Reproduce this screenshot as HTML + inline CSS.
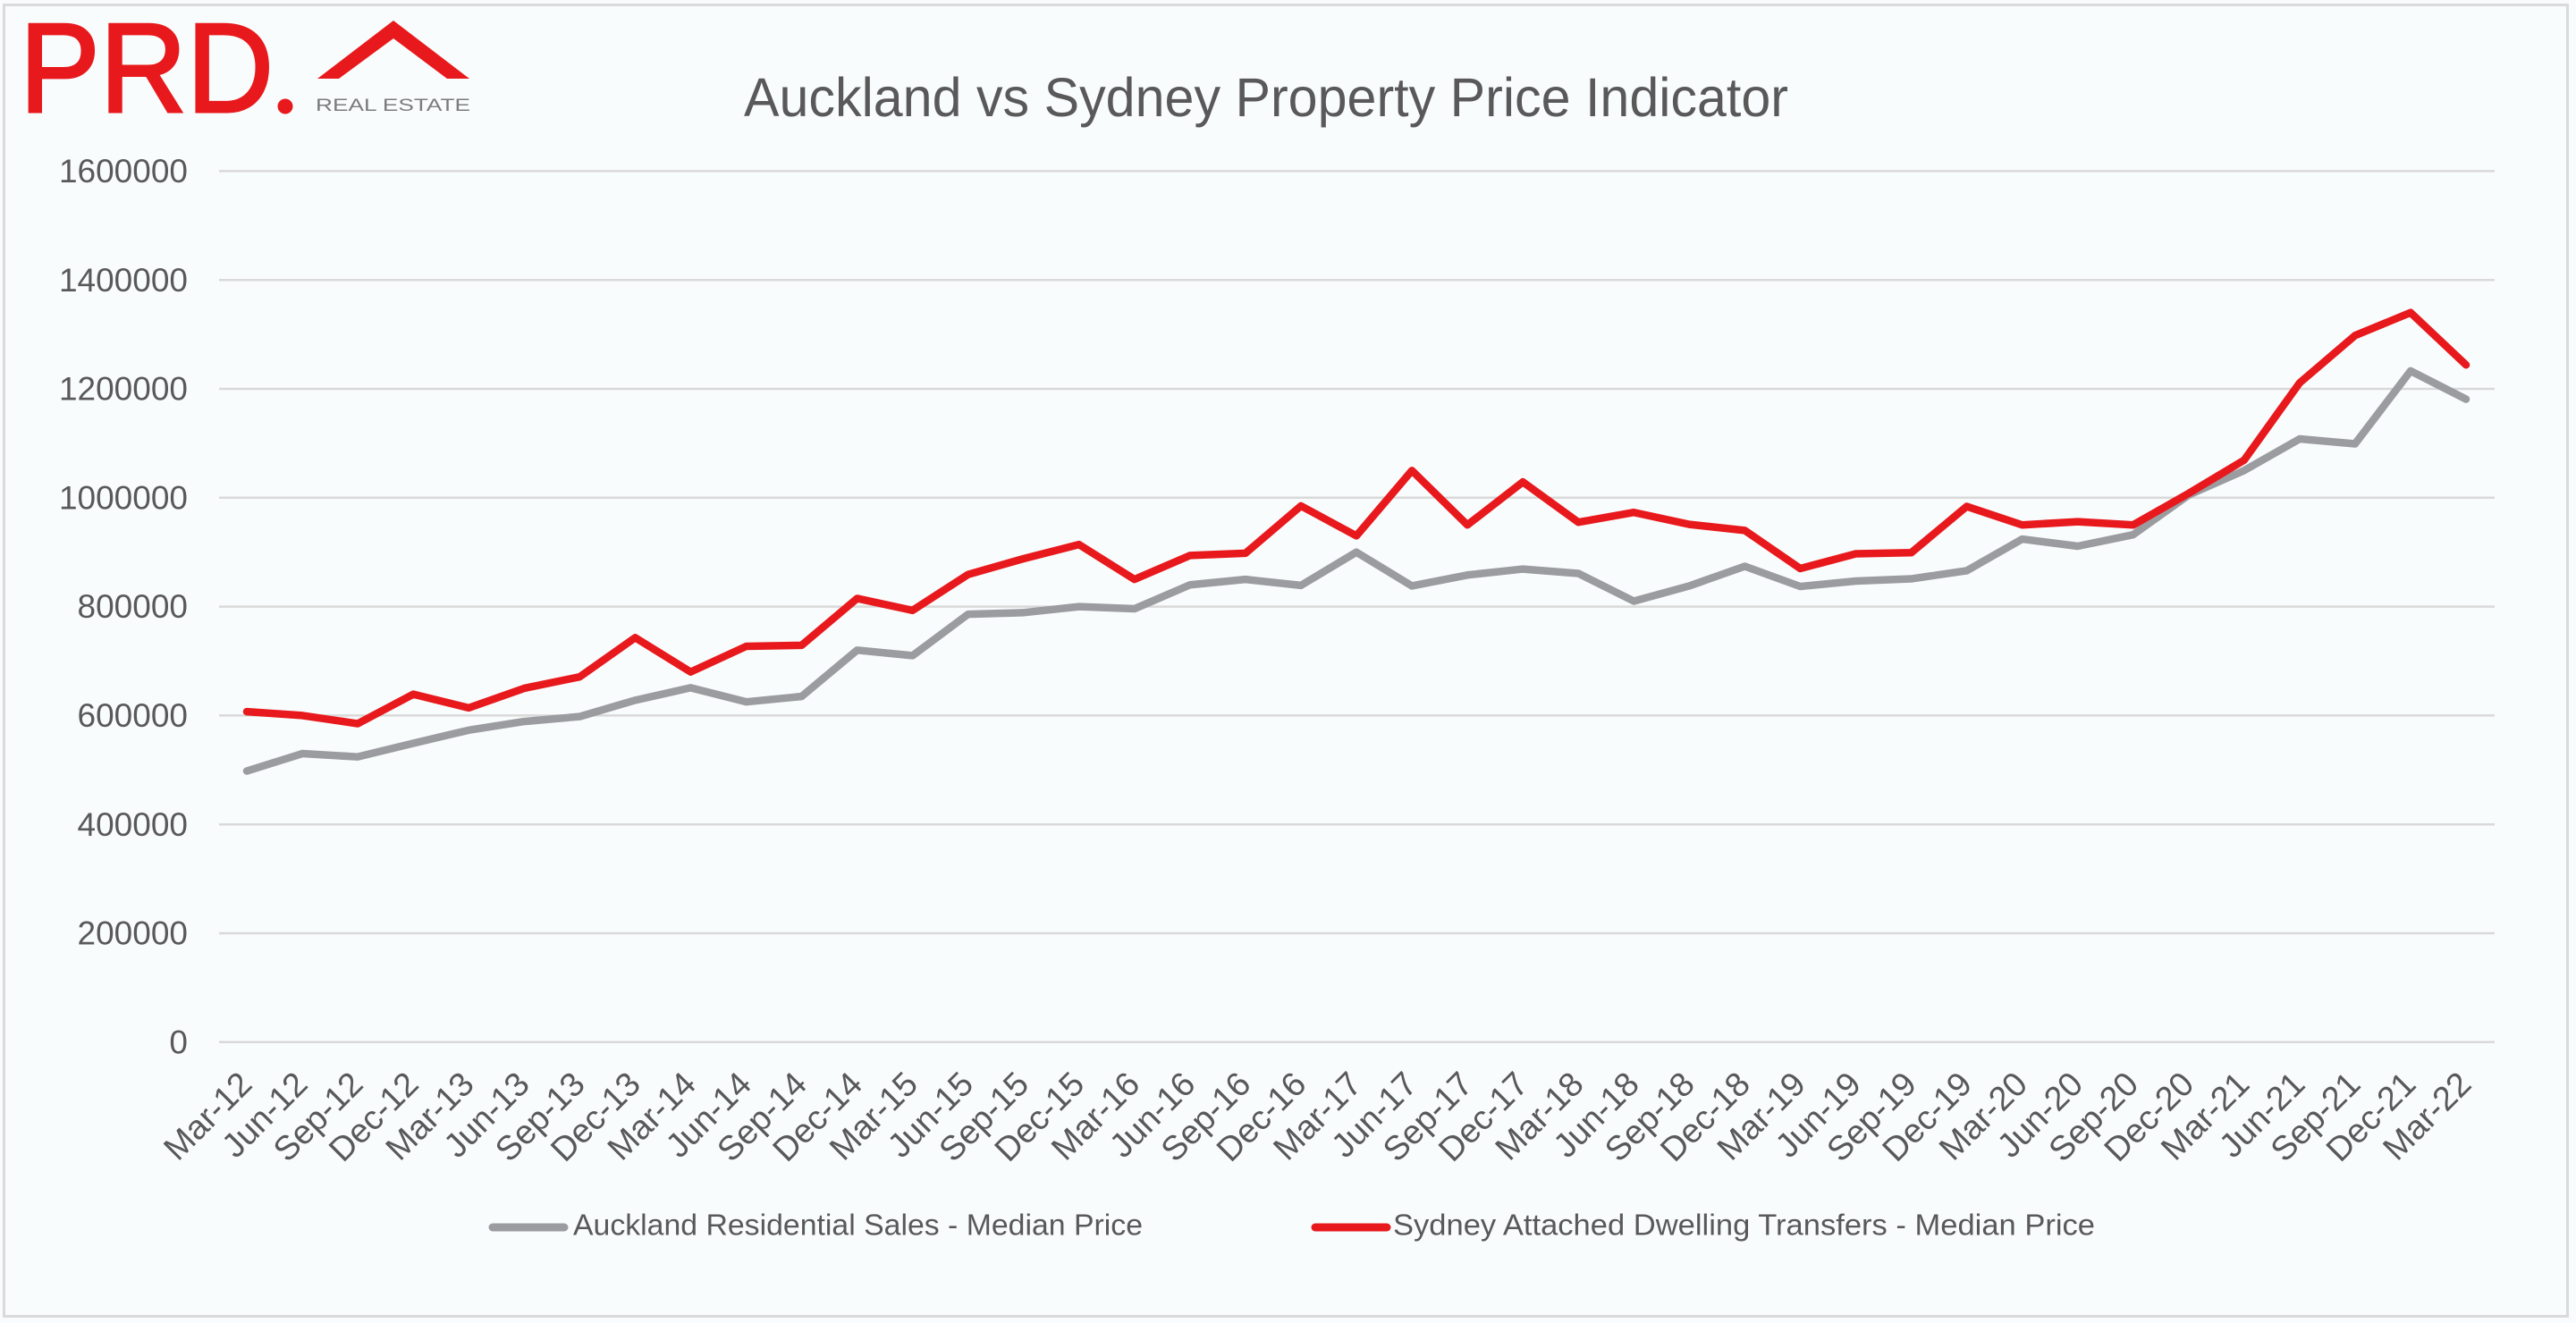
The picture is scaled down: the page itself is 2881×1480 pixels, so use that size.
<!DOCTYPE html>
<html>
<head>
<meta charset="utf-8">
<style>
html,body{margin:0;padding:0;background:#F9FCFD;}
svg{display:block;}
</style>
</head>
<body>
<svg width="2881" height="1480" viewBox="0 0 2881 1480" xmlns="http://www.w3.org/2000/svg">
  <rect x="0" y="0" width="2881" height="1480" fill="#F9FCFD"/>
  <rect x="4.5" y="5.5" width="2867" height="1467" fill="#F9FCFD" stroke="#D9DADB" stroke-width="3"/>

  <!-- Logo -->
  <text x="22" y="125" font-family="Liberation Sans, sans-serif" font-size="142" fill="#E8191C" stroke="#E8191C" stroke-width="3" textLength="284" lengthAdjust="spacingAndGlyphs">PRD</text>
  <circle cx="319" cy="119" r="8.5" fill="#E8191C"/>
  <polygon points="355,88 440,23 525,88 500,88 440,43 379,88" fill="#E8191C"/>
  <text x="353" y="124" font-family="Liberation Sans, sans-serif" font-size="19.5" fill="#7A7B7D" textLength="173" lengthAdjust="spacingAndGlyphs">REAL ESTATE</text>

  <!-- Title -->
  <text x="832" y="130" font-family="Liberation Sans, sans-serif" font-size="61" fill="#595959" textLength="1168" lengthAdjust="spacingAndGlyphs">Auckland vs Sydney Property Price Indicator</text>

  <!-- Gridlines -->
  <g stroke="#D9D9D9" stroke-width="2.5">
    <line x1="245" y1="191.4" x2="2790" y2="191.4"/>
    <line x1="245" y1="313.2" x2="2790" y2="313.2"/>
    <line x1="245" y1="435" x2="2790" y2="435"/>
    <line x1="245" y1="556.8" x2="2790" y2="556.8"/>
    <line x1="245" y1="678.6" x2="2790" y2="678.6"/>
    <line x1="245" y1="800.4" x2="2790" y2="800.4"/>
    <line x1="245" y1="922.2" x2="2790" y2="922.2"/>
    <line x1="245" y1="1044" x2="2790" y2="1044"/>
    <line x1="245" y1="1165.8" x2="2790" y2="1165.8"/>
  </g>

  <!-- Y labels -->
  <g font-family="Liberation Sans, sans-serif" font-size="37" fill="#595959" text-anchor="end">
    <text x="210" y="204">1600000</text>
    <text x="210" y="325.8">1400000</text>
    <text x="210" y="447.6">1200000</text>
    <text x="210" y="569.4">1000000</text>
    <text x="210" y="691.2">800000</text>
    <text x="210" y="813">600000</text>
    <text x="210" y="934.8">400000</text>
    <text x="210" y="1056.6">200000</text>
    <text x="210" y="1178.4">0</text>
  </g>

  <!-- Series -->
  <g transform="matrix(1 0 0 -0.609 0 1165.8)" fill="none" stroke-linejoin="round" stroke-linecap="round">
    <polyline vector-effect="non-scaling-stroke" stroke="#9B9CA0" stroke-width="8.5"
      points="276,498 338.1,530 400.1,524 462.2,549 524.2,573 586.3,589 648.3,598 710.4,628 772.4,651 834.5,625 896.5,635 958.6,720 1020.6,710 1082.7,786 1144.7,789 1206.8,800 1268.8,796 1330.9,840 1392.9,850 1455,839 1517,900 1579.1,838 1641.1,858 1703.2,869 1765.2,861 1827.3,810 1889.3,838 1951.4,874 2013.4,837 2075.5,847 2137.5,851 2199.6,866 2261.6,924 2323.7,911 2385.7,932 2447.8,1005 2509.8,1050 2571.9,1108 2633.9,1099 2696,1233 2758,1181"/>
    <polyline vector-effect="non-scaling-stroke" stroke="#E8191C" stroke-width="8.5"
      points="276,607 338.1,600 400.1,585 462.2,639 524.2,614 586.3,650 648.3,671 710.4,743 772.4,680 834.5,727 896.5,729 958.6,815 1020.6,793 1082.7,859 1144.7,888 1206.8,914 1268.8,850 1330.9,894 1392.9,898 1455,985 1517,930 1579.1,1050 1641.1,950 1703.2,1029 1765.2,955 1827.3,973 1889.3,951 1951.4,940 2013.4,870 2075.5,897 2137.5,899 2199.6,984 2261.6,950 2323.7,956 2385.7,950 2447.8,1008 2509.8,1069 2571.9,1211 2633.9,1298 2696,1340 2758,1244"/>
  </g>

  <!-- X labels -->
  <g font-family="Liberation Sans, sans-serif" font-size="38" fill="#595959" text-anchor="end">
    <text transform="translate(284,1215) rotate(-45)">Mar-12</text>
    <text transform="translate(346.1,1215) rotate(-45)">Jun-12</text>
    <text transform="translate(408.1,1215) rotate(-45)">Sep-12</text>
    <text transform="translate(470.2,1215) rotate(-45)">Dec-12</text>
    <text transform="translate(532.2,1215) rotate(-45)">Mar-13</text>
    <text transform="translate(594.3,1215) rotate(-45)">Jun-13</text>
    <text transform="translate(656.3,1215) rotate(-45)">Sep-13</text>
    <text transform="translate(718.4,1215) rotate(-45)">Dec-13</text>
    <text transform="translate(780.4,1215) rotate(-45)">Mar-14</text>
    <text transform="translate(842.5,1215) rotate(-45)">Jun-14</text>
    <text transform="translate(904.5,1215) rotate(-45)">Sep-14</text>
    <text transform="translate(966.6,1215) rotate(-45)">Dec-14</text>
    <text transform="translate(1028.6,1215) rotate(-45)">Mar-15</text>
    <text transform="translate(1090.7,1215) rotate(-45)">Jun-15</text>
    <text transform="translate(1152.7,1215) rotate(-45)">Sep-15</text>
    <text transform="translate(1214.8,1215) rotate(-45)">Dec-15</text>
    <text transform="translate(1276.8,1215) rotate(-45)">Mar-16</text>
    <text transform="translate(1338.9,1215) rotate(-45)">Jun-16</text>
    <text transform="translate(1400.9,1215) rotate(-45)">Sep-16</text>
    <text transform="translate(1463,1215) rotate(-45)">Dec-16</text>
    <text transform="translate(1525,1215) rotate(-45)">Mar-17</text>
    <text transform="translate(1587.1,1215) rotate(-45)">Jun-17</text>
    <text transform="translate(1649.1,1215) rotate(-45)">Sep-17</text>
    <text transform="translate(1711.2,1215) rotate(-45)">Dec-17</text>
    <text transform="translate(1773.2,1215) rotate(-45)">Mar-18</text>
    <text transform="translate(1835.3,1215) rotate(-45)">Jun-18</text>
    <text transform="translate(1897.3,1215) rotate(-45)">Sep-18</text>
    <text transform="translate(1959.4,1215) rotate(-45)">Dec-18</text>
    <text transform="translate(2021.4,1215) rotate(-45)">Mar-19</text>
    <text transform="translate(2083.5,1215) rotate(-45)">Jun-19</text>
    <text transform="translate(2145.5,1215) rotate(-45)">Sep-19</text>
    <text transform="translate(2207.6,1215) rotate(-45)">Dec-19</text>
    <text transform="translate(2269.6,1215) rotate(-45)">Mar-20</text>
    <text transform="translate(2331.7,1215) rotate(-45)">Jun-20</text>
    <text transform="translate(2393.7,1215) rotate(-45)">Sep-20</text>
    <text transform="translate(2455.8,1215) rotate(-45)">Dec-20</text>
    <text transform="translate(2517.8,1215) rotate(-45)">Mar-21</text>
    <text transform="translate(2579.9,1215) rotate(-45)">Jun-21</text>
    <text transform="translate(2641.9,1215) rotate(-45)">Sep-21</text>
    <text transform="translate(2704,1215) rotate(-45)">Dec-21</text>
    <text transform="translate(2766,1215) rotate(-45)">Mar-22</text>
  </g>

  <!-- Legend -->
  <line x1="551" y1="1373" x2="631" y2="1373" stroke="#9B9CA0" stroke-width="9" stroke-linecap="round"/>
  <text x="641" y="1381.5" font-family="Liberation Sans Narrow, Liberation Sans, sans-serif" font-size="33" fill="#595959" textLength="637" lengthAdjust="spacingAndGlyphs">Auckland Residential Sales - Median Price</text>
  <line x1="1471" y1="1373" x2="1551" y2="1373" stroke="#E8191C" stroke-width="9" stroke-linecap="round"/>
  <text x="1558" y="1381.5" font-family="Liberation Sans Narrow, Liberation Sans, sans-serif" font-size="33" fill="#595959" textLength="785" lengthAdjust="spacingAndGlyphs">Sydney Attached Dwelling Transfers - Median Price</text>
</svg>
</body>
</html>
